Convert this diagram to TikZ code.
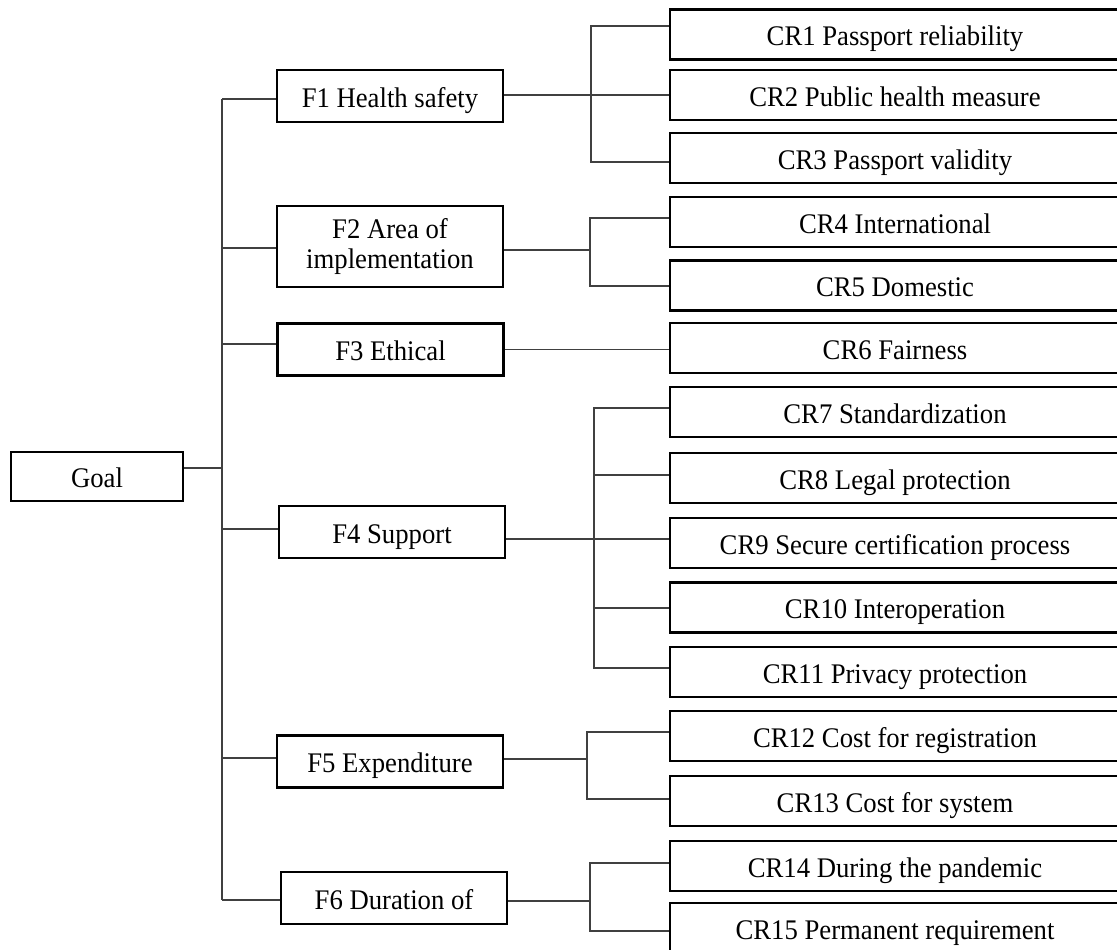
\documentclass[tikz,border=0pt]{standalone}
\usepackage{fontspec}
\setmainfont{Liberation Serif}[FakeStretch=0.94]
\usepackage{tikz}

\begin{document}
\begin{tikzpicture}[
            x = 0.5pt, y = -0.5pt, % pixel grid, y going down
            box/.style = {draw=black, line width=1.2pt, inner sep=0pt,
                          text height=12.5pt, text depth=1.5pt,
                          font=\fontsize{14.2}{15.3}\selectfont},
            factor/.style = {box, minimum width=113pt, minimum height=26pt},
            crit/.style = {box, minimum width=225pt, minimum height=25pt},
            link/.style = {draw=black!75, line width=0.65pt}
        ]
\useasboundingbox (0,0) rectangle (1117,949);
\clip (0,0) rectangle (1117,949);

\node[box, minimum width=86pt, minimum height=24.5pt] (Goal) at (97,476.5) {Goal};

\node[factor] (F1) at (390,96) {F1 Health safety};
\node[factor, minimum height=40.5pt, align=center, text height=, text depth=] (F2) at (390,246.5) {F2 Area of\\implementation};
\node[factor] (F3) at (390.5,349.5) {F3 Ethical};
\node[factor] (F4) at (392,532) {F4 Support};
\node[factor] (F5) at (390,761.5) {F5 Expenditure};
\node[factor] (F6) at (394,898) {F6 Duration of};

\node[crit] (CR1) at (895,34.5) {CR1 Passport reliability};
\node[crit] (CR2) at (895,95) {CR2 Public health measure};
\node[crit] (CR3) at (895,158) {CR3 Passport validity};
\node[crit] (CR4) at (895,222) {CR4 International};
\node[crit] (CR5) at (895,285.5) {CR5 Domestic};
\node[crit] (CR6) at (895,348) {CR6 Fairness};
\node[crit] (CR7) at (895,412) {CR7 Standardization};
\node[crit] (CR8) at (895,478) {CR8 Legal protection};
\node[crit] (CR9) at (895,543) {CR9 Secure certification process};
\node[crit] (CR10) at (895,607.5) {CR10 Interoperation};
\node[crit] (CR11) at (895,672) {CR11 Privacy protection};
\node[crit] (CR12) at (895,736) {CR12 Cost for registration};
\node[crit] (CR13) at (895,801) {CR13 Cost for system};
\node[crit] (CR14) at (895,866) {CR14 During the pandemic};
\node[crit] (CR15) at (895,928) {CR15 Permanent requirement};

% goal to factors
\coordinate (g) at (222,468);
\coordinate (t1) at (222,99);
\coordinate (t2) at (222,248);
\coordinate (t3) at (222,344);
\coordinate (t4) at (222,529);
\coordinate (t5) at (222,758);
\coordinate (t6) at (222,900);

\draw[link] (Goal.east |- g) -- (g);
\draw[link] (t1) -- (t6);
\draw[link] (t1) -- (t1 -| F1.west);
\draw[link] (t2) -- (t2 -| F2.west);
\draw[link] (t3) -- (t3 -| F3.west);
\draw[link] (t4) -- (t4 -| F4.west);
\draw[link] (t5) -- (t5 -| F5.west);
\draw[link] (t6) -- (t6 -| F6.west);

% factors to criteria
\coordinate (s1) at (591,95);
\coordinate (u1) at (591,26);
\coordinate (d1) at (591,162);
\draw[link] (F1.east |- s1) -- (CR2.west |- s1);
\draw[link] (CR1.west |- u1) -- (u1) -- (d1) -- (CR3.west |- d1);

\coordinate (s2) at (590,250);
\coordinate (u2) at (590,218);
\coordinate (d2) at (590,286);
\draw[link] (F2.east |- s2) -- (s2);
\draw[link] (CR4.west |- u2) -- (u2) -- (d2) -- (CR5.west |- d2);

\draw[link] (F3.east) -- (F3.east -| CR6.west);

\coordinate (s4) at (594,539);
\coordinate (u4) at (594,408);
\coordinate (m8) at (594,475);
\coordinate (m10) at (594,608);
\coordinate (d4) at (594,668);
\draw[link] (F4.east |- s4) -- (CR9.west |- s4);
\draw[link] (CR7.west |- u4) -- (u4) -- (d4) -- (CR11.west |- d4);
\draw[link] (m8) -- (CR8.west |- m8);
\draw[link] (m10) -- (CR10.west |- m10);

\coordinate (s5) at (587,759);
\coordinate (u5) at (587,732);
\coordinate (d5) at (587,799);
\draw[link] (F5.east |- s5) -- (s5);
\draw[link] (CR12.west |- u5) -- (u5) -- (d5) -- (CR13.west |- d5);

\coordinate (s6) at (590,901);
\coordinate (u6) at (590,863);
\coordinate (d6) at (590,931);
\draw[link] (F6.east |- s6) -- (s6);
\draw[link] (CR14.west |- u6) -- (u6) -- (d6) -- (CR15.west |- d6);
\end{tikzpicture}
\end{document}
